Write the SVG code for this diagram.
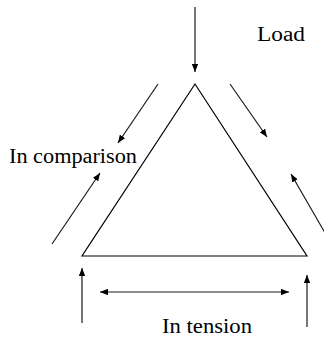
<svg xmlns="http://www.w3.org/2000/svg" width="324" height="338" viewBox="0 0 324 338">
<style>
.ln{stroke:#000;stroke-width:1.2;fill:none}
.ar{stroke:#1a1a1a;stroke-width:1.2;fill:none;marker-end:url(#ah)}
.tx{font-family:"Liberation Serif","Times New Roman",serif;font-size:20px;fill:#000}
</style>
<defs>
<marker id="ah" viewBox="0 0 10 8" refX="10" refY="4" markerWidth="8" markerHeight="6.4" markerUnits="userSpaceOnUse" orient="auto-start-reverse">
<path d="M0,0 L10,4 L0,8 Z" fill="#000"/>
</marker>
</defs>
<rect width="324" height="338" fill="#fff"/>
<g id="truss">
<polygon class="ln" points="195,84 82,256 307,256" stroke-linejoin="miter"/>
</g>
<g id="connectors">
<line class="ar" x1="195" y1="7" x2="195" y2="72"/>
<line class="ar" x1="158" y1="84" x2="118" y2="143"/>
<line class="ar" x1="52" y1="244" x2="100" y2="173"/>
<line class="ar" x1="230" y1="84" x2="267" y2="137"/>
<line class="ar" x1="332" y1="245" x2="291" y2="174"/>
<line class="ar" x1="82" y1="323" x2="82" y2="268"/>
<line class="ar" x1="307" y1="327" x2="307" y2="275"/>
<line class="ar" x1="100" y1="292" x2="289" y2="292" style="marker-start:url(#ah)"/>
</g>
<g id="labels">
<text class="tx" x="257" y="41" textLength="48" lengthAdjust="spacingAndGlyphs">Load</text>
<text class="tx" x="9" y="163" textLength="128" lengthAdjust="spacingAndGlyphs">In comparison</text>
<text class="tx" x="162" y="333" textLength="90" lengthAdjust="spacingAndGlyphs">In tension</text>
</g>
</svg>
